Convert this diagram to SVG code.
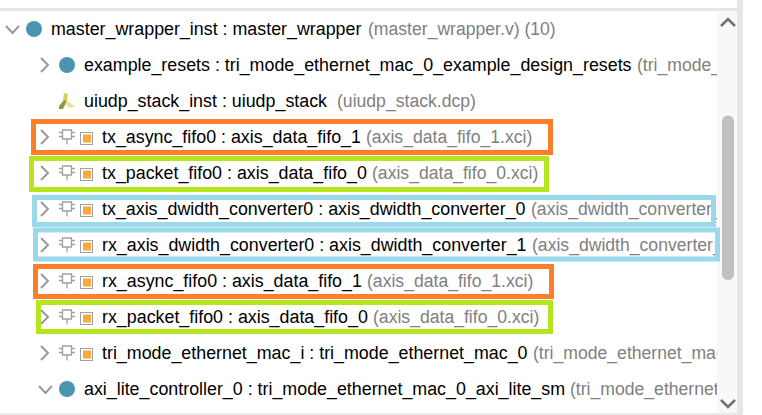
<svg xmlns="http://www.w3.org/2000/svg" width="762" height="415" viewBox="0 0 762 415">
<style>
text{font-family:"Liberation Sans",Arial,sans-serif;font-size:17.85px;fill:#000}
.g{fill:#808080;font-size:17.6px}
.chev{fill:none;stroke:#9a9a9a;stroke-width:2}
.ball{fill:#4c95b0}
.ic{fill:none;stroke:#a0a0a0;stroke-width:1.300}
.sq{fill:#fff;stroke:#a0a0a0;stroke-width:1}
.or{fill:#fba83c}
.b{fill:none;stroke-width:5}
</style>
<defs>
<clipPath id="c"><rect x="0" y="11" width="717" height="402"/></clipPath>
<g id="chip"><path class="ic" d="M3.500 1H12.500V10H3.500ZM8 10V15.500M0 3.500H3.500M0 7.500H3.500M12.500 3.500H16M12.500 7.500H16"/><rect class="sq" x="21.500" y="3.500" width="12" height="12"/><rect class="or" x="24" y="5.500" width="8" height="8"/></g>
<path id="r" class="chev" d="M0 0L7 7L0 14"/>
</defs>
<rect width="762" height="415" fill="#fff"/>
<rect x="0" y="8" width="737" height="3" fill="#e6e6e6"/>
<rect x="0" y="413" width="737" height="2" fill="#eaeaea"/>
<rect x="717" y="11" width="20" height="402" fill="#f8f8f8"/>
<rect x="737" y="0" width="6" height="415" fill="#e6e6e6"/>
<g id="scrollbar">
<path d="M721 26L728 19L735 26" fill="none" stroke="#707070" stroke-width="2.500"/>
<rect x="722" y="115.500" width="12" height="164.500" rx="6" fill="#c0c0c0"/>
<path d="M721 400L728 407L735 400" fill="none" stroke="#707070" stroke-width="2.500"/>
</g>
<g clip-path="url(#c)">
<g id="row-master"><path class="chev" d="M6 26L12.500 33L19 26"/><circle class="ball" cx="34" cy="29" r="8"/><text x="51" y="35">master_wrapper_inst : master_wrapper <tspan class="g" x="368">(master_wrapper.v) (10)</tspan></text></g>
<g id="row-resets"><use href="#r" x="41" y="58"/><circle class="ball" cx="67" cy="65" r="8"/><text x="84" y="71">example_resets : tri_mode_ethernet_mac_0_example_design_resets <tspan class="g" x="637">(tri_mode_ethernet_mac_0_example_design_resets.v)</tspan></text></g>
<g id="row-uiudp"><path d="M64 93L68 94L67 101L63 100Z" fill="#d8cf50"/><path d="M59 106L64 100L67 101L63 109L59 109Z" fill="#8a9a40"/><path d="M67 101L75 106L70 108L65 104Z" fill="#e0e690"/><text x="84" y="107">uiudp_stack_inst : uiudp_stack <tspan class="g" x="337">(uiudp_stack.dcp)</tspan></text></g>
<g id="row-tx-async"><use href="#r" x="41" y="130"/><use href="#chip" x="59" y="129"/><text x="102" y="143">tx_async_fifo0 : axis_data_fifo_1 <tspan class="g" x="366">(axis_data_fifo_1.xci)</tspan></text></g>
<g id="row-tx-packet"><use href="#r" x="41" y="166"/><use href="#chip" x="59" y="165"/><text x="102" y="179">tx_packet_fifo0 : axis_data_fifo_0 <tspan class="g" x="372">(axis_data_fifo_0.xci)</tspan></text></g>
<g id="row-tx-dw"><use href="#r" x="41" y="202"/><use href="#chip" x="59" y="201"/><text x="102" y="215">tx_axis_dwidth_converter0 : axis_dwidth_converter_0 <tspan class="g" x="531">(axis_dwidth_converter_0.xci)</tspan></text></g>
<g id="row-rx-dw"><use href="#r" x="41" y="238"/><use href="#chip" x="59" y="237"/><text x="102" y="251">rx_axis_dwidth_converter0 : axis_dwidth_converter_1 <tspan class="g" x="532">(axis_dwidth_converter_1.xci)</tspan></text></g>
<g id="row-rx-async"><use href="#r" x="41" y="274"/><use href="#chip" x="59" y="273"/><text x="102" y="287">rx_async_fifo0 : axis_data_fifo_1 <tspan class="g" x="367">(axis_data_fifo_1.xci)</tspan></text></g>
<g id="row-rx-packet"><use href="#r" x="41" y="310"/><use href="#chip" x="59" y="309"/><text x="102" y="323">rx_packet_fifo0 : axis_data_fifo_0 <tspan class="g" x="373">(axis_data_fifo_0.xci)</tspan></text></g>
<g id="row-mac"><use href="#r" x="41" y="346"/><use href="#chip" x="59" y="345"/><text x="102" y="359">tri_mode_ethernet_mac_i : tri_mode_ethernet_mac_0 <tspan class="g" x="533">(tri_mode_ethernet_mac_0.xci)</tspan></text></g>
<g id="row-axi"><path class="chev" d="M39 386L45.500 393L52 386"/><circle class="ball" cx="67" cy="389" r="8"/><text x="84" y="395">axi_lite_controller_0 : tri_mode_ethernet_mac_0_axi_lite_sm <tspan class="g" x="570">(tri_mode_ethernet_mac_0_axi_lite_sm.v)</tspan></text></g>
</g>
<g id="highlights">
<rect class="b" x="33.500" y="121.500" width="517" height="31" stroke="#fd7e28"/>
<rect class="b" x="31.500" y="158.500" width="515" height="31" stroke="#b5e61d"/>
<rect class="b" x="34.500" y="197.500" width="679" height="27" stroke="#99d9ea"/>
<rect class="b" x="35.500" y="230" width="682" height="29" stroke="#99d9ea"/>
<rect class="b" x="35.500" y="266.500" width="516" height="30" stroke="#fd7e28"/>
<rect class="b" x="38.500" y="302.500" width="512" height="29" stroke="#b5e61d"/>
</g>
</svg>
